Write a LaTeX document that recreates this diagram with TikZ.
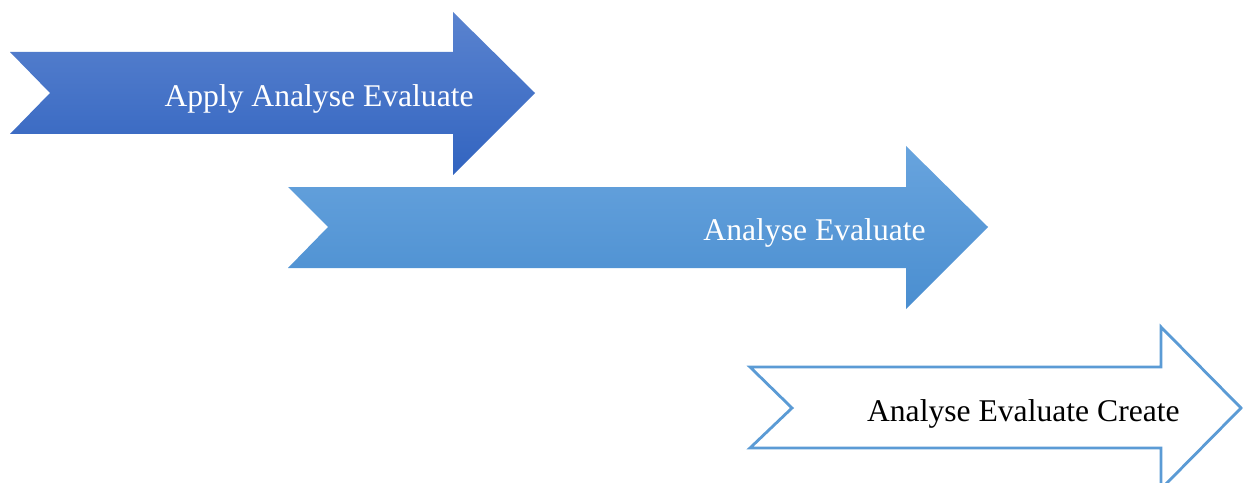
\documentclass[tikz,border=0pt]{standalone}
\usepackage{fontspec}
\setmainfont{Liberation Serif}
\definecolor{darkblue}{HTML}{3264C0}
\definecolor{darkblueT}{HTML}{5A83CF}
\definecolor{midblue}{HTML}{4A8ED0}
\definecolor{midblueT}{HTML}{68A4DE}
\definecolor{lineblue}{HTML}{5B9BD5}
\begin{document}
\begin{tikzpicture}[x=0.02cm, y=-0.02cm,
    lbl/.style= {anchor=east, font=\fontsize{18}{22}\selectfont, inner sep=0pt},
]
\useasboundingbox (0,0) rectangle (1248,483);

% first arrow
\shade[top color=darkblueT, bottom color=darkblue]
 (10,52) -- (453,52) -- (453,12) -- (535,93) -- (453,175) -- (453,134)
 -- (10,134) -- (50,93) -- cycle;
\node[lbl, white] (apply) at (474,99) {Apply Analyse Evaluate};

% second arrow
\shade[top color=midblueT, bottom color=midblue]
 (288,187) -- (906,187) -- (906,146) -- (988,227) -- (906,309) -- (906,268)
 -- (288,268) -- (328,227) -- cycle;
\node[lbl, white] (analyse) at (926,233) {Analyse Evaluate};

% third arrow
\draw[line width=1.6pt, lineblue, fill=white, line join=miter]
 (750,367) -- (1161,367) -- (1161,327) -- (1241,408) -- (1161,489) -- (1161,448)
 -- (750,448) -- (792,408) -- cycle;
\node[lbl, black] (create) at (1180,414) {Analyse Evaluate Create};

\end{tikzpicture}
\end{document}
